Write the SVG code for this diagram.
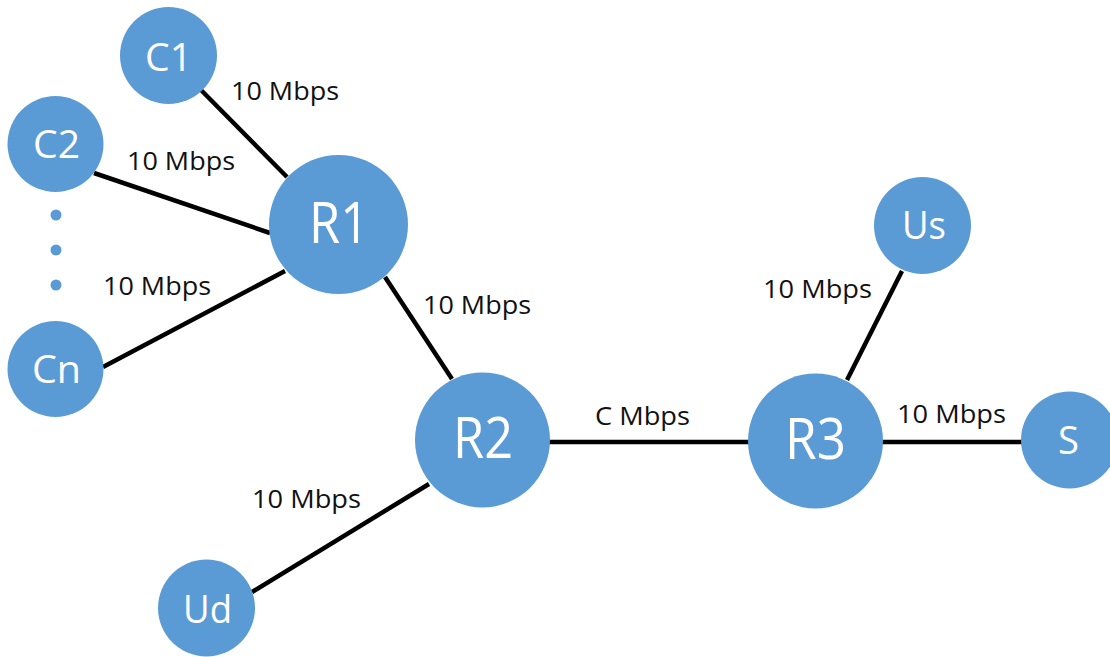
<svg xmlns="http://www.w3.org/2000/svg" width="1110" height="657" viewBox="0 0 1110 657">
  <style>
    .node { fill: #5B9BD5; }
    .name { fill: #ffffff; font-family: "Open Sans", "Liberation Sans", sans-serif; text-anchor: middle; }
    .small { font-size: 39px; }
    .big { font-size: 56px; }
    .link { stroke: #000000; stroke-width: 4.5; stroke-linecap: butt; }
    .rate { fill: #111111; font-family: "Open Sans", "Liberation Sans", sans-serif; font-size: 25px; }
  </style>
  <rect width="1110" height="657" fill="#ffffff"/>

  <!-- links between hosts and routers -->
  <g id="connectors">
    <line class="link" x1="200" y1="89" x2="287" y2="177"/>
    <line class="link" x1="94" y1="173" x2="270" y2="233"/>
    <line class="link" x1="103" y1="367" x2="285" y2="271"/>
    <line class="link" x1="385" y1="277" x2="452" y2="379"/>
    <line class="link" x1="429" y1="484" x2="252" y2="592"/>
    <line class="link" x1="549" y1="442" x2="749" y2="442"/>
    <line class="link" x1="902" y1="271" x2="847" y2="380"/>
    <line class="link" x1="882" y1="442" x2="1022" y2="442"/>
    <text class="rate" x="231" y="100" textLength="108" lengthAdjust="spacingAndGlyphs">10 Mbps</text>
    <text class="rate" x="127" y="170" textLength="108" lengthAdjust="spacingAndGlyphs">10 Mbps</text>
    <text class="rate" x="103" y="295" textLength="108" lengthAdjust="spacingAndGlyphs">10 Mbps</text>
    <text class="rate" x="423" y="314" textLength="108" lengthAdjust="spacingAndGlyphs">10 Mbps</text>
    <text class="rate" x="252" y="508" textLength="109" lengthAdjust="spacingAndGlyphs">10 Mbps</text>
    <text class="rate" x="595" y="425" textLength="95" lengthAdjust="spacingAndGlyphs">C Mbps</text>
    <text class="rate" x="763" y="298" textLength="109" lengthAdjust="spacingAndGlyphs">10 Mbps</text>
    <text class="rate" x="897" y="423" textLength="109" lengthAdjust="spacingAndGlyphs">10 Mbps</text>
  </g>

  <g id="C1">
    <circle class="node" cx="168.5" cy="55.5" r="48.5"/>
    <text class="name small" x="168.5" y="71" textLength="47" lengthAdjust="spacingAndGlyphs">C1</text>
  </g>
  <g id="C2">
    <circle class="node" cx="55.5" cy="144" r="48"/>
    <text class="name small" x="56.5" y="158" textLength="47" lengthAdjust="spacingAndGlyphs">C2</text>
  </g>
  <g id="ellipsis">
    <circle class="node" cx="56" cy="215" r="5.5"/>
    <circle class="node" cx="56" cy="250" r="5.5"/>
    <circle class="node" cx="56" cy="285" r="5.5"/>
  </g>
  <g id="Cn">
    <circle class="node" cx="55.5" cy="369" r="48"/>
    <text class="name small" x="56.5" y="383" textLength="49" lengthAdjust="spacingAndGlyphs">Cn</text>
  </g>
  <g id="R1">
    <circle class="node" cx="338.5" cy="224.5" r="69.5"/>
    <text class="name big" x="339" y="243" textLength="60" lengthAdjust="spacingAndGlyphs">R1</text>
  </g>
  <g id="R2">
    <circle class="node" cx="482.5" cy="440" r="67.5"/>
    <text class="name big" x="483" y="458" textLength="60" lengthAdjust="spacingAndGlyphs">R2</text>
  </g>
  <g id="R3">
    <circle class="node" cx="815.5" cy="441" r="67.5"/>
    <text class="name big" x="815.5" y="459" textLength="61" lengthAdjust="spacingAndGlyphs">R3</text>
  </g>
  <g id="Us">
    <circle class="node" cx="922.5" cy="225.5" r="48.5"/>
    <text class="name small" x="924" y="239" textLength="44" lengthAdjust="spacingAndGlyphs">Us</text>
  </g>
  <g id="S">
    <circle class="node" cx="1069.5" cy="440" r="48.5"/>
    <text class="name small" x="1068.5" y="454" textLength="21" lengthAdjust="spacingAndGlyphs">S</text>
  </g>
  <g id="Ud">
    <circle class="node" cx="206.5" cy="608" r="48.5"/>
    <text class="name small" x="207.5" y="623" textLength="49" lengthAdjust="spacingAndGlyphs">Ud</text>
  </g>
</svg>
